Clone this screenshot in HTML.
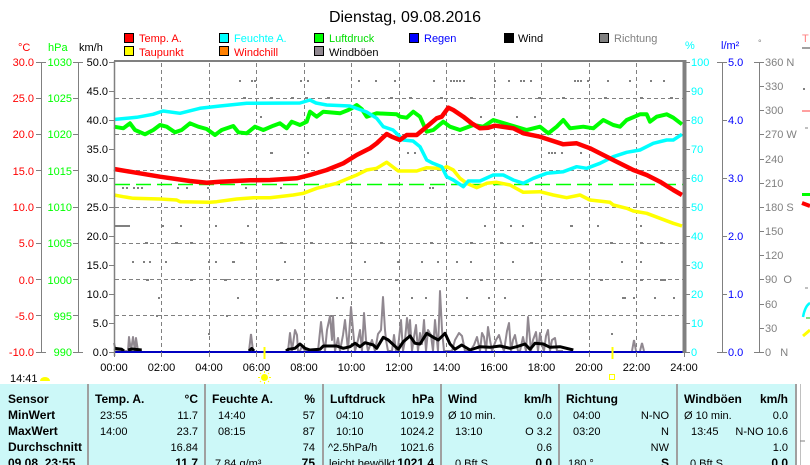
<!DOCTYPE html>
<html><head><meta charset="utf-8"><style>
html,body{margin:0;padding:0;background:#fff;}
svg{display:block;font-family:"Liberation Sans",sans-serif;}
</style></head><body>
<svg width="810" height="465" viewBox="0 0 810 465" xmlns="http://www.w3.org/2000/svg">
<rect width="810" height="465" fill="#fff"/>
<!-- title -->
<text x="405" y="22" font-size="16" text-anchor="middle" fill="#000">Dienstag, 09.08.2016</text>

<!-- legend -->
<g font-size="11">
<rect x="124.5" y="33.5" width="9" height="9" fill="#ff0000" stroke="#000"/><text x="139" y="42" fill="#ff0000">Temp. A.</text>
<rect x="219.5" y="33.5" width="9" height="9" fill="#00ffff" stroke="#000"/><text x="234" y="42" fill="#00ffff">Feuchte A.</text>
<rect x="314.5" y="33.5" width="9" height="9" fill="#00ff00" stroke="#000"/><text x="329" y="42" fill="#00dd00">Luftdruck</text>
<rect x="409.5" y="33.5" width="9" height="9" fill="#0000ff" stroke="#000"/><text x="424" y="42" fill="#0000ff">Regen</text>
<rect x="504.5" y="33.5" width="9" height="9" fill="#000" stroke="#000"/><text x="518" y="42" fill="#000">Wind</text>
<rect x="599.5" y="33.5" width="9" height="9" fill="#808080" stroke="#000"/><text x="614" y="42" fill="#808080">Richtung</text>
<rect x="124.5" y="46.5" width="9" height="9" fill="#ffff00" stroke="#000"/><text x="139" y="56" fill="#ff0000">Taupunkt</text>
<rect x="219.5" y="46.5" width="9" height="9" fill="#ff8000" stroke="#000"/><text x="234" y="56" fill="#ff0000">Windchill</text>
<rect x="314.5" y="46.5" width="9" height="9" fill="#908890" stroke="#000"/><text x="329" y="56" fill="#000">Windböen</text>
</g>

<!-- axis titles -->
<g font-size="11">
<text x="18" y="51" fill="#ff0000">°C</text>
<text x="48" y="51" fill="#00ff00">hPa</text>
<text x="79" y="51" fill="#000">km/h</text>
<text x="685" y="49" fill="#00ffff">%</text>
<text x="721" y="49" fill="#0000ff">l/m²</text>
<text x="758" y="46" fill="#808080" font-size="9">°</text>
</g>

<!-- grid -->
<g stroke="#808080" stroke-width="1" stroke-dasharray="4 3" fill="none">
<path d="M115 98.5H683 M115 134.5H683 M115 170.5H683 M115 207.5H683 M115 243.5H683 M115 279.5H683 M115 315.5H683"/>
<path d="M161.5 63V351 M209.5 63V351 M256.5 63V351 M304.5 63V351 M351.5 63V351 M399.5 63V351 M446.5 63V351 M494.5 63V351 M541.5 63V351 M589.5 63V351 M636.5 63V351"/>
</g>

<!-- direction dots -->
<path fill="#808080" d="
M239 80h2v2h-2z M251 80h2v2h-2z M254 80h2v2h-2z M300 80h2v2h-2z M307 80h2v2h-2z M358 80h2v2h-2z M375 80h2v2h-2z M394 80h2v2h-2z M433 80h2v2h-2z M450 80h2v2h-2z M453 80h2v2h-2z M456 80h2v2h-2z M459 80h2v2h-2z M463 80h2v2h-2z M494 80h2v2h-2z M508 80h2v2h-2z M520 80h2v2h-2z M523 80h2v2h-2z M530 80h2v2h-2z M574 80h2v2h-2z M577 80h2v2h-2z M580 80h2v2h-2z M587 80h2v2h-2z M607 80h2v2h-2z M629 80h2v2h-2z M650 80h2v2h-2z M663 80h2v2h-2z
M243 97h3v2h-3z M270 97h3v2h-3z M291 97h3v2h-3z M305 97h3v2h-3z M327 97h3v2h-3z M390 97h3v2h-3z M409 97h3v2h-3z M440 97h3v2h-3z M470 97h3v2h-3z M538 97h3v2h-3z M562 97h3v2h-3z M604 97h3v2h-3z M640 97h3v2h-3z M670 97h3v2h-3z
M260 116h2v2h-2z M480 116h2v2h-2z M516 116h2v2h-2z M534 116h2v2h-2z
M270 152h3v2h-3z M307 152h2v2h-2z M407 152h2v2h-2z M414 152h2v2h-2z M548 152h2v2h-2z M551 152h2v2h-2z M554 152h2v2h-2z M561 152h2v2h-2z M580 152h2v2h-2z
M122 187h2v2h-2z M126 187h2v2h-2z M133 187h2v2h-2z M137 187h2v2h-2z M141 187h2v2h-2z M177 187h2v2h-2z M186 187h2v2h-2z M207 187h2v2h-2z M245 187h2v2h-2z M280 187h2v2h-2z M429 187h2v2h-2z M432 187h2v2h-2z
M115 225h15v2h-15z M162 225h2v2h-2z M180 225h2v2h-2z M215 225h2v2h-2z M247 225h2v2h-2z M484 225h2v2h-2z M510 225h2v2h-2z M522 225h2v2h-2z M570 225h3v2h-3z M597 225h2v2h-2z M640 225h2v2h-2z
M145 242h3v2h-3z M175 242h3v2h-3z M190 242h3v2h-3z M240 242h3v2h-3z M280 242h3v2h-3z M310 242h3v2h-3z M350 242h3v2h-3z M380 242h3v2h-3z M430 242h3v2h-3z M470 242h3v2h-3z M500 242h3v2h-3z M530 242h3v2h-3z M610 242h3v2h-3z M640 242h3v2h-3z M660 242h3v2h-3z
M132 261h2v2h-2z M143 261h2v2h-2z M149 261h2v2h-2z M165 261h2v2h-2z M208 261h2v2h-2z M215 261h2v2h-2z M232 261h3v2h-3z M284 261h2v2h-2z M364 261h2v2h-2z M397 261h2v2h-2z M421 261h2v2h-2z M437 261h2v2h-2z M456 261h2v2h-2z M470 261h2v2h-2z M512 261h2v2h-2z M621 261h2v2h-2z M640 261h2v2h-2z
M146 279h3v2h-3z M190 279h3v2h-3z M224 279h3v2h-3z M276 279h3v2h-3z M395 279h3v2h-3z M480 279h3v2h-3z M540 279h3v2h-3z M600 279h3v2h-3z M640 279h3v2h-3z M660 279h6v2h-6z
M158 297h2v2h-2z M237 297h2v2h-2z M336 297h2v2h-2z M342 297h2v2h-2z M411 297h2v2h-2z M425 297h2v2h-2z M466 297h2v2h-2z M488 297h2v2h-2z M504 297h2v2h-2z M622 297h4v2h-4z M633 297h2v2h-2z M654 297h2v2h-2z M673 297h2v2h-2z
M156 315h2v2h-2z M226 315h2v2h-2z M330 315h2v2h-2z
M208 333h2v2h-2z M611 333h2v2h-2z
"/>

<!-- green dashed reference -->
<path d="M115 184.5H683" stroke="#00ff00" stroke-width="1.5" stroke-dasharray="15 6" fill="none"/>

<!-- gusts -->
<polyline fill="none" stroke="#908890" stroke-width="2" stroke-linejoin="round" points="114,343 116,351 120,351 128,351 129,337 131,351 133,337 135,351 136,338 138,351 142,351"/>
<polyline fill="none" stroke="#908890" stroke-width="2" points="249,351 251,334 253,351"/>
<polyline fill="none" stroke="#908890" stroke-width="2" stroke-linejoin="round" points="288,351 290,333 292,351 295,330 297,335 298,351 300,351 302,346 305,351 310,351 318,351 321,322 323,340 325,351 327,330 330,316 332,340 333,316 335,351 338,338 340,351 343,335 345,320 347,340 348,351 351,307 353,330 355,351 358,340 360,330 362,351 364,313 366,340 368,351 372,340 375,351 378,334 381,330 383,297 385,330 386,340 388,351 392,351 394,335 396,351 398,348 401,320 403,351 405,340 407,318 409,336 410,320 412,351 414,337 416,325 418,351 420,333 422,344 424,320 426,351 428,330 431,335 433,351 435,320 438,351 440,291 442,330 444,351 448,351 452,351 455,340 459,333 462,336 465,351 470,351 474,345 477,337 480,351 482,333 484,337 486,351 488,327 490,340 492,351 496,340 499,335 502,346 504,351 507,331 509,323 511,351 513,340 515,335 518,351 520,351 523,337 526,351 528,317 531,351 533,340 536,332 538,351 540,333 542,345 544,351 546,336 548,330 550,351 552,340 555,338 557,351 563,351"/>
<polyline fill="none" stroke="#908890" stroke-width="2" points="632,351 634,340 636,351"/>
<polyline fill="none" stroke="#908890" stroke-width="2" points="640,351 642,343 644,351"/>

<!-- series -->
<polyline fill="none" stroke="#00ff00" stroke-width="4" stroke-linejoin="round" points="114,126.7 123.3,128.3 130,123.3 135,130 145,134.3 153.3,130 160,125 166.7,126.7 175,132.3 181.7,130 190,123.3 198.3,126.7 206.7,129 215,135 221.7,130 233.3,126 238.3,132.3 246.7,133.3 255,126.7 263.3,130 273.3,125.7 280,123.3 286.7,128.3 291.7,121.7 300,125 306.7,121.7 310,111.7 316.7,116.7 323.3,111.7 340,113.3 348.3,110 351.7,108.3 356.7,105 361.7,109 366.7,116.7 376.7,113.3 396.7,114.3 400,116.7 406.7,117.7 413.3,111.7 420,116.7 426.7,131.7 433.3,130 443.3,121.7 450,126.7 460,130 473.3,125 483.3,126.7 493.3,120 510,125 526.7,130 540,126.7 548.3,133.3 556.7,126.7 563.3,120 570,128.3 583.3,126.7 593.3,128.3 603.3,120 613.3,125 620,126.7 626.7,120 640,114.3 646.7,114.3 650,121.7 656.7,116.7 666.7,114.3 673.3,117.7 682,124.3"/>
<polyline fill="none" stroke="#ffff00" stroke-width="3.5" stroke-linejoin="round" points="114,195 123.3,196.7 133.3,198.3 160,199 176.7,200 180,201.7 210,202.3 216.7,201.7 236.7,199 253.3,197.7 270,197.7 293.3,195 303.3,193.3 316.7,188.3 336.7,183.3 356.7,175 366.7,170 376.7,168.3 386.7,162.3 398.3,171 416.7,171 426.7,167.7 436.7,168.3 441.7,169 446.7,166.7 453.3,170 460,178.3 466.7,183.3 476.7,187.7 486.7,183.3 496.7,182.3 510,185 523.3,192.3 540,191.7 553.3,195 566.7,197.7 580,195 590,200 610,202.3 613.3,205 626.7,208.3 633.3,211 646.7,213.3 660,218.3 673.3,223.3 682,226"/>
<polyline fill="none" stroke="#00ffff" stroke-width="3.5" stroke-linejoin="round" points="114,119.5 136.7,117.3 153,114.3 163,111 180,113.3 200,108.3 220,106 246.7,103.3 300,103 310,100 316,103 326.7,105 350,106 366.7,112 376.7,118.3 383.3,126.7 393,130 400,136.7 403,140 413,141 420,146.7 426.7,160 433,163.3 441.7,166.7 446.7,176.7 453.3,180 463.3,186.7 468.3,181 480,181 493.3,175 503.3,175 513.3,180 523.3,183.3 533.3,178.3 546.7,173.3 563.3,171.7 576.7,166.7 586.7,168.3 600,163.3 613.3,156.7 626.7,152.3 640,150 653.3,143.3 666.7,140 673.3,140 682,134.3"/>
<polyline fill="none" stroke="#ff0000" stroke-width="4.5" stroke-linejoin="round" points="114,169 130,171.7 160,176.7 190,181 206.7,182.7 220,181.7 250,180.3 270,180 296.7,178.3 310,175 326.7,170 343.3,163.3 356.7,155 370,148.3 376.7,143.3 386.7,134 391.7,136.7 400,140 406.7,135 416.7,135 426.7,126.7 436.7,118.3 441.7,116.7 448.3,107.7 453.3,110 463.3,116.7 471.7,123.3 480,128.3 488.3,127.7 495,125.7 513.3,128.3 523.3,133.3 540,136.7 550,140 563.3,144.3 576.7,143.3 590,148.3 603.3,155 616.7,161.7 633.3,170 646.7,175 660,181.7 673.3,190 682,195"/>

<!-- wind -->
<g fill="none" stroke="#000" stroke-width="3" stroke-linejoin="round">
<polyline points="114,348.3 121.7,349.3 124,351"/>
<polyline points="128,350 132,349 141.7,350"/>
<polyline points="249,351 251.7,348.5 254,351"/>
<polyline points="286,351 288.3,349.3 295,348.3 300,344 305,348.3 310,350 320,349.3 323.3,346 336.7,346 343.3,348.3 350,346.7 355,343.3 360,346.7 365,342.7 373.3,345 376.7,348.3 383.3,337.3 388.3,340 398.3,349.3 403.3,341.7 410,336 415,343.3 420,344 426.7,333.3 433.3,337.3 438.3,340 445,333.3 450,344 455,349.3 461.7,345 470,350 480,346.7 490,347.3 500,346 510,348.3 516.7,346.7 525,344 530,349.3 535,343.3 543.3,344 550,347.3 560,346.7 573.3,350"/>
</g>

<!-- rain baseline -->
<path d="M114 352H684" stroke="#0000c0" stroke-width="2"/>

<!-- frame -->
<path d="M114 61H684" stroke="#808080" stroke-width="2"/>
<path d="M114.5 61V356" stroke="#808080" stroke-width="1.5"/>
<path d="M684.5 60V353" stroke="#808080" stroke-width="4"/>
<!-- x ticks -->
<path stroke="#808080" stroke-width="1" d="M114.5 352V357 M161.5 352V357 M209.5 352V357 M256.5 352V357 M304.5 352V357 M351.5 352V357 M399.5 352V357 M446.5 352V357 M494.5 352V357 M541.5 352V357 M589.5 352V357 M636.5 352V357 M684.5 352V357"/>

<!-- left axes -->
<g stroke="#808080" stroke-width="1" fill="none">
<path d="M41.5 62V352 M36 62.5H46 M36 352.5H46 M36 98.5H41 M36 134.5H41 M36 170.5H41 M36 207.5H41 M36 243.5H41 M36 279.5H41 M36 315.5H41"/>
<path d="M78.5 62V352 M73 62.5H83 M73 352.5H83 M73 98.5H78 M73 134.5H78 M73 170.5H78 M73 207.5H78 M73 243.5H78 M73 279.5H78 M73 315.5H78"/>
<path d="M109 62.5H114 M109 91.5H114 M109 120.5H114 M109 149.5H114 M109 178.5H114 M109 207.5H114 M109 236.5H114 M109 265.5H114 M109 294.5H114 M109 323.5H114 M109 352.5H114"/>
</g>
<g font-size="11" text-anchor="end">
<g fill="#ff0000">
<text x="34" y="66">30.0</text><text x="34" y="102">25.0</text><text x="34" y="138">20.0</text><text x="34" y="175">15.0</text><text x="34" y="211">10.0</text><text x="34" y="247">5.0</text><text x="34" y="284">0.0</text><text x="34" y="320">-5.0</text><text x="34" y="356">-10.0</text>
</g>
<g fill="#00ff00">
<text x="72" y="66">1030</text><text x="72" y="102">1025</text><text x="72" y="138">1020</text><text x="72" y="175">1015</text><text x="72" y="211">1010</text><text x="72" y="247">1005</text><text x="72" y="284">1000</text><text x="72" y="320">995</text><text x="72" y="356">990</text>
</g>
<g fill="#000">
<text x="108" y="66">50.0</text><text x="108" y="95">45.0</text><text x="108" y="124">40.0</text><text x="108" y="153">35.0</text><text x="108" y="182">30.0</text><text x="108" y="211">25.0</text><text x="108" y="240">20.0</text><text x="108" y="269">15.0</text><text x="108" y="298">10.0</text><text x="108" y="327">5.0</text><text x="108" y="356">0.0</text>
</g>
</g>

<!-- right axes -->
<g stroke="#808080" stroke-width="1" fill="none">
<path d="M686 62.5H690 M686 91.5H690 M686 120.5H690 M686 149.5H690 M686 178.5H690 M686 207.5H690 M686 236.5H690 M686 265.5H690 M686 294.5H690 M686 323.5H690 M686 352.5H690"/>
<path d="M722.5 62V352 M717 62.5H727 M717 352.5H727 M722 120.5H727 M722 178.5H727 M722 236.5H727 M722 294.5H727"/>
<path d="M759.5 62V352 M754 62.5H764 M754 352.5H764 M759 86.5H764 M759 110.5H764 M759 134.5H764 M759 159.5H764 M759 183.5H764 M759 207.5H764 M759 231.5H764 M759 255.5H764 M759 279.5H764 M759 304.5H764 M759 328.5H764"/>
</g>
<g font-size="11">
<g fill="#00ffff">
<text x="691" y="66">100</text><text x="691" y="95">90</text><text x="691" y="124">80</text><text x="691" y="153">70</text><text x="691" y="182">60</text><text x="691" y="211">50</text><text x="691" y="240">40</text><text x="691" y="269">30</text><text x="691" y="298">20</text><text x="691" y="327">10</text><text x="691" y="356">0</text>
</g>
<g fill="#0000ff">
<text x="728" y="66">5.0</text><text x="728" y="124">4.0</text><text x="728" y="182">3.0</text><text x="728" y="240">2.0</text><text x="728" y="298">1.0</text><text x="728" y="356">0.0</text>
</g>
<g fill="#808080">
<text x="765" y="66">360 N</text><text x="765" y="90">330</text><text x="765" y="114">300</text><text x="765" y="138">270 W</text><text x="765" y="163">240</text><text x="765" y="187">210</text><text x="765" y="211">180 S</text><text x="765" y="235">150</text><text x="765" y="259">120</text><text x="765" y="283">90&#160;&#160;O</text><text x="765" y="308">60</text><text x="765" y="332">30</text><text x="765" y="356">0&#160;&#160;&#160;N</text>
</g>
</g>

<!-- right edge partial -->
<text x="802" y="42" font-size="11" fill="#ff8080">T</text>
<path d="M802 48H810" stroke="#808080" stroke-width="1.5"/>
<rect x="803" y="88" width="2" height="2" fill="#808080"/>
<path d="M802 111H810" stroke="#ff8080" stroke-width="1.5"/>
<path d="M805 128H808" stroke="#808080" stroke-width="1"/>
<rect x="802" y="193" width="8" height="3" fill="#00ff00"/>
<path d="M802 203L810 206" stroke="#ff0000" stroke-width="4"/>
<path d="M805 288H808" stroke="#808080" stroke-width="1"/>
<path d="M803 317Q805 306 810 303" stroke="#00ffff" stroke-width="2.5" fill="none"/>
<path d="M806 318H810" stroke="#00c000" stroke-width="1"/>
<path d="M803 336L810 330" stroke="#ffff00" stroke-width="3"/>

<!-- x labels -->
<g font-size="11" text-anchor="middle" fill="#000">
<text x="114" y="371">00:00</text><text x="161.5" y="371">02:00</text><text x="209" y="371">04:00</text><text x="256.5" y="371">06:00</text><text x="304" y="371">08:00</text><text x="351.5" y="371">10:00</text><text x="399" y="371">12:00</text><text x="446.5" y="371">14:00</text><text x="494" y="371">16:00</text><text x="541.5" y="371">18:00</text><text x="589" y="371">20:00</text><text x="636.5" y="371">22:00</text><text x="684" y="371">24:00</text>
</g>

<!-- sun markers -->
<path d="M264.5 347V359" stroke="#ffff00" stroke-width="2"/>
<circle cx="264.5" cy="377.5" r="3.5" fill="#ffff00"/>
<g stroke="#ffff00" stroke-width="1"><path d="M264.5 371V373 M264.5 382V384 M258 377.5H260 M269 377.5H271 M260 373L261 374 M268 381L269 382 M269 373L268 374 M260 382L261 381"/></g>
<path d="M612.5 347V359" stroke="#ffff00" stroke-width="2"/>
<rect x="609.5" y="374.5" width="5" height="5" fill="none" stroke="#ffff00" stroke-width="1"/>
<text x="10" y="382" font-size="11" fill="#000">14:41</text>
<path d="M40 381A5 4 0 0 1 50 381Z" fill="#ffff00"/>

<!-- table -->
<rect x="0" y="384" width="797" height="81" fill="#ccf8f8"/>
<g stroke="#a0a0a0" stroke-width="2">
<path d="M88 384V465 M205 384V465 M323 384V465 M441 384V465 M559 384V465 M677 384V465 M796 384V465"/>
</g>
<path d="M800.5 384V465" stroke="#c0c0c0" stroke-width="1"/>
<path d="M800 441H805" stroke="#808080" stroke-width="1"/>

<g font-size="12" font-weight="bold" fill="#000">
<text x="8" y="403">Sensor</text>
<text x="8" y="419">MinWert</text>
<text x="8" y="435">MaxWert</text>
<text x="8" y="451">Durchschnitt</text>
<text x="8" y="467">09.08. 23:55</text>
<text x="95" y="403">Temp. A.</text><text x="198" y="403" text-anchor="end">°C</text>
<text x="212" y="403">Feuchte A.</text><text x="315" y="403" text-anchor="end">%</text>
<text x="330" y="403">Luftdruck</text><text x="434" y="403" text-anchor="end">hPa</text>
<text x="448" y="403">Wind</text><text x="552" y="403" text-anchor="end">km/h</text>
<text x="566" y="403">Richtung</text>
<text x="684" y="403">Windböen</text><text x="788" y="403" text-anchor="end">km/h</text>
<text x="198" y="467" text-anchor="end">11.7</text>
<text x="315" y="467" text-anchor="end">75</text>
<text x="434" y="467" text-anchor="end">1021.4</text>
<text x="552" y="467" text-anchor="end">0.0</text>
<text x="669" y="467" text-anchor="end">S</text>
<text x="788" y="467" text-anchor="end">0.0</text>
</g>
<g font-size="11" fill="#000">
<text x="100" y="419">23:55</text><text x="198" y="419" text-anchor="end">11.7</text>
<text x="100" y="435">14:00</text><text x="198" y="435" text-anchor="end">23.7</text>
<text x="198" y="451" text-anchor="end">16.84</text>
<text x="218" y="419">14:40</text><text x="315" y="419" text-anchor="end">57</text>
<text x="218" y="435">08:15</text><text x="315" y="435" text-anchor="end">87</text>
<text x="315" y="451" text-anchor="end">74</text>
<text x="215" y="467">7.84 g/m³</text>
<text x="336" y="419">04:10</text><text x="434" y="419" text-anchor="end">1019.9</text>
<text x="336" y="435">10:10</text><text x="434" y="435" text-anchor="end">1024.2</text>
<text x="328" y="451">^2.5hPa/h</text><text x="434" y="451" text-anchor="end">1021.6</text>
<text x="329" y="467">leicht bewölkt</text>
<text x="448" y="419">Ø 10 min.</text><text x="552" y="419" text-anchor="end">0.0</text>
<text x="455" y="435">13:10</text><text x="552" y="435" text-anchor="end">O 3.2</text>
<text x="552" y="451" text-anchor="end">0.6</text>
<text x="455" y="467">0 Bft S</text>
<text x="573" y="419">04:00</text><text x="669" y="419" text-anchor="end">N-NO</text>
<text x="573" y="435">03:20</text><text x="669" y="435" text-anchor="end">N</text>
<text x="669" y="451" text-anchor="end">NW</text>
<text x="568" y="467">180 °</text>
<text x="684" y="419">Ø 10 min.</text><text x="788" y="419" text-anchor="end">0.0</text>
<text x="691" y="435">13:45</text><text x="788" y="435" text-anchor="end">N-NO 10.6</text>
<text x="788" y="451" text-anchor="end">1.0</text>
<text x="690" y="467">0 Bft S</text>
</g>
</svg>
</body></html>
